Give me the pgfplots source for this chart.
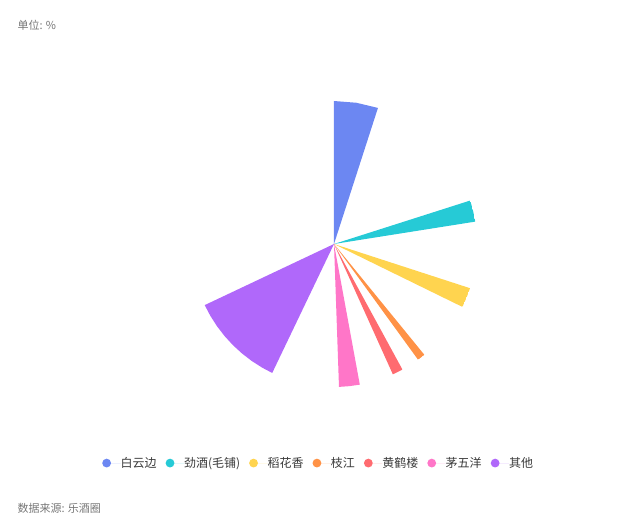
\documentclass[border=0pt]{standalone}
\usepackage{pgfplots}
\pgfplotsset{compat=1.18}
\usepgfplotslibrary{polar}
\usepackage{fontspec}
\setmainfont{Noto Sans CJK SC}

\definecolor{cBai}{HTML}{6C87F2}
\definecolor{cJin}{HTML}{26CAD6}
\definecolor{cDao}{HTML}{FFD44F}
\definecolor{cZhi}{HTML}{FF9246}
\definecolor{cHuang}{HTML}{FF6B70}
\definecolor{cMao}{HTML}{FF76C8}
\definecolor{cQi}{HTML}{B068FA}
\definecolor{noteGray}{HTML}{777777}
\definecolor{legGray}{HTML}{3A3A3A}

\begin{document}
\begin{tikzpicture}
\useasboundingbox (0,0) rectangle (480pt,399pt);

\node[anchor=west, inner sep=0pt, text=noteGray, font=\fontsize{8.25pt}{10pt}\selectfont]
  at (13pt,380.25pt) {单位: \%};
\node[anchor=west, inner sep=0pt, text=noteGray, font=\fontsize{8.25pt}{10pt}\selectfont]
  at (13pt,18pt) {数据来源: 乐酒圈};

\begin{polaraxis}[
    at={(250.5pt,216pt)}, anchor=center,
    scale only axis,
    width=214.5pt, height=214.5pt,
    ymin=0, ymax=143,
    hide axis,
    legend columns=-1,
    legend style={
        at={(0.443,-0.266)}, anchor=center,
        draw=none, fill=none,
        nodes={inner sep=0pt, text=legGray, font=\fontsize{9pt}{11pt}\selectfont},
        /tikz/every even column/.append style={column sep=6.75pt},
    },
    legend image code/.code={
        \fill[#1] (0pt,0pt) circle (3.3pt);
        \path (-3.3pt,0pt) -- (10.5pt,0pt);
    },
]

% sectors: (angle in degrees, radius), angle 0 = east, counter-clockwise
\addplot[fill=cBai, draw=none] coordinates {
    (90,0) (90,143) (81,143) (72.1,143) (72.1,0)
};
\addlegendentry{白云边}

\addplot[fill=cJin, draw=none] coordinates {
    (17.7,0) (17.7,143) (13.3,143) (9.0,143) (9.0,0)
};
\addlegendentry{劲酒(毛铺)}

\addplot[fill=cDao, draw=none] coordinates {
    (-18.0,0) (-18.0,143) (-22.0,143) (-26.1,143) (-26.1,0)
};
\addlegendentry{稻花香}

\addplot[fill=cZhi, draw=none] coordinates {
    (-50.8,0) (-50.8,143) (-54.0,143) (-54.0,0)
};
\addlegendentry{枝江}

\addplot[fill=cHuang, draw=none] coordinates {
    (-61.4,0) (-61.4,143) (-63.5,143) (-65.7,143) (-65.7,0)
};
\addlegendentry{黄鹤楼}

\addplot[fill=cMao, draw=none] coordinates {
    (-79.6,0) (-79.6,143) (-83.8,143) (-88.0,143) (-88.0,0)
};
\addlegendentry{茅五洋}

\addplot[fill=cQi, draw=none] coordinates {
    (-115.6,0) (-115.6,143) (-120,143) (-125,143) (-130,143) (-135,143)
    (-140,143) (-145,143) (-150,143) (-154.7,143) (-154.7,0)
};
\addlegendentry{其他}

\end{polaraxis}
\end{tikzpicture}
\end{document}
